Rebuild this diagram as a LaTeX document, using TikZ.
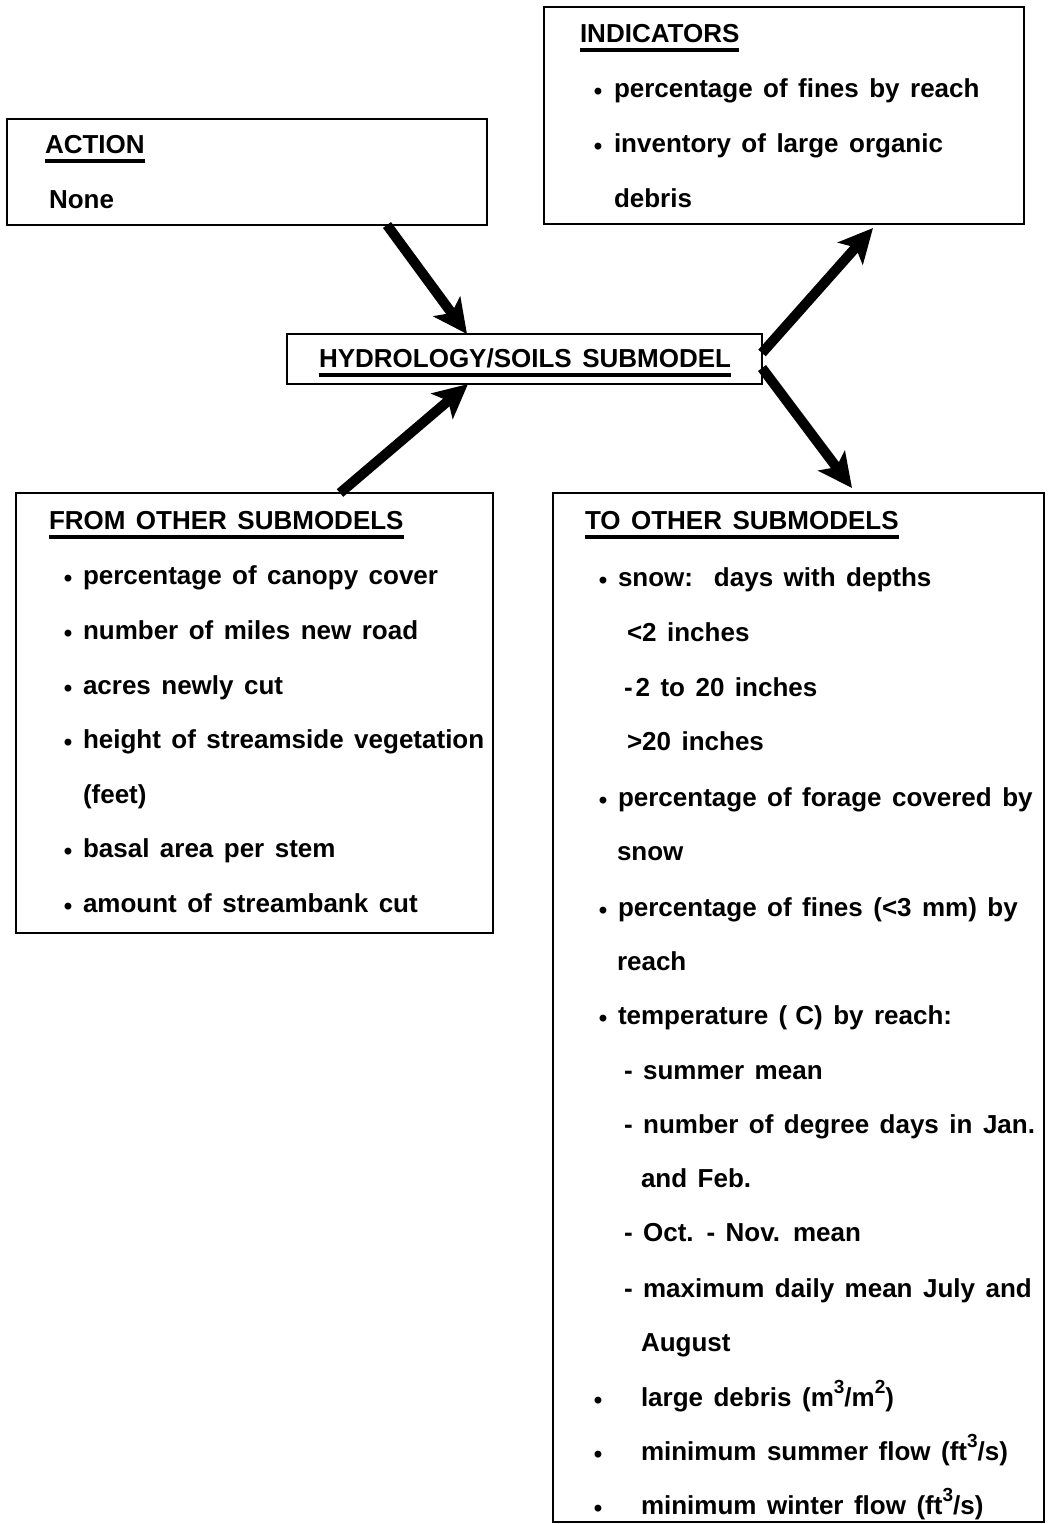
\documentclass[tikz,border=0pt]{standalone}
\usepackage{fontspec}
\setmainfont{Liberation Sans}[WordSpace=1.45]
\usetikzlibrary{arrows.meta}
% raised unit exponent, as typed on the original sheet
\newcommand\supnum[1]{\raisebox{0.5em}{\fontsize{19}{19}\selectfont #1}}

\begin{document}
\begin{tikzpicture}[x=1pt,y=-1pt,
  box/.style={draw=black, line width=2.8pt, anchor=north west, inner sep=0pt, outer sep=0pt},
  txt/.style={anchor=base west, inner sep=0pt, outer sep=0pt, font=\fontsize{26}{30}\selectfont\bfseries},
  head/.style={txt},
  bul/.style={anchor=base, inner sep=0pt, outer sep=0pt, font=\fontsize{24}{28}\selectfont\bfseries},
  ul/.style={line width=4pt, line cap=butt},
  arr/.style={line width=10pt, -{Stealth[length=34pt, width=33pt, inset=8pt]}}]

% page
\fill[white] (0,0) rectangle (1053,1524);
\useasboundingbox (0,0) rectangle (1053,1524);

% frames
\node[box, minimum width=480pt, minimum height=106pt]  (action) at (7,119)   {};
\node[box, minimum width=480pt, minimum height=217pt]  (ind)    at (544,7)   {};
\node[box, minimum width=475pt, minimum height=50pt]   (hyd)    at (287,334) {};
\node[box, minimum width=477pt, minimum height=440pt]  (from)   at (16,493)  {};
\node[box, minimum width=491pt, minimum height=1029pt] (to)     at (553,493) {};

% ACTION
\node[head] (hAct) at (45,153) {ACTION};
\draw[ul] ([yshift=-8pt]hAct.base west) -- ([yshift=-8pt]hAct.base east);
\node[txt] (tNone) at (49,208) {None};

% INDICATORS
\node[head] (hInd) at (580,42) {INDICATORS};
\draw[ul] ([yshift=-8pt]hInd.base west) -- ([yshift=-8pt]hInd.base east);
\node[bul] (bi1) at (598,99) {\textbullet};
\node[txt] (ti1) at (614,97) {percentage of fines by reach};
\node[bul] (bi2) at (598,154) {\textbullet};
\node[txt] (ti2) at (614,152) {inventory of large organic};
\node[txt] (ti3) at (614,207) {debris};

% central submodel
\node[head] (hHyd) at (319,367) {HYDROLOGY/SOILS SUBMODEL};
\draw[ul] ([yshift=-8pt]hHyd.base west) -- ([yshift=-8pt]hHyd.base east);

% FROM OTHER SUBMODELS
\node[head] (hFrom) at (49,529) {FROM OTHER SUBMODELS};
\draw[ul] ([yshift=-8pt]hFrom.base west) -- ([yshift=-8pt]hFrom.base east);
\node[bul] (bf1) at (68,586) {\textbullet};
\node[txt] (tf1) at (83,584) {percentage of canopy cover};
\node[bul] (bf2) at (68,641) {\textbullet};
\node[txt] (tf2) at (83,639) {number of miles new road};
\node[bul] (bf3) at (68,696) {\textbullet};
\node[txt] (tf3) at (83,694) {acres newly cut};
\node[bul] (bf4) at (68,750) {\textbullet};
\node[txt] (tf4) at (83,748) {height of streamside vegetation};
\node[txt] (tf5) at (83,803) {(feet)};
\node[bul] (bf6) at (68,859) {\textbullet};
\node[txt] (tf6) at (83,857) {basal area per stem};
\node[bul] (bf7) at (68,914) {\textbullet};
\node[txt] (tf7) at (83,912) {amount of streambank cut};

% TO OTHER SUBMODELS
\node[head] (hTo) at (585,529) {TO OTHER SUBMODELS};
\draw[ul] ([yshift=-8pt]hTo.base west) -- ([yshift=-8pt]hTo.base east);
\node[bul] (bt1) at (603,588) {\textbullet};
\node[txt] (tt1) at (618,586) {snow:\hspace{8pt} days with depths};
\node[txt] (tt2) at (627,641) {<2 inches};
\node[txt] (tt3) at (624,696) {-\hspace{3pt}2 to 20 inches};
\node[txt] (tt4) at (627,750) {>20 inches};
\node[bul] (bt5) at (603,808) {\textbullet};
\node[txt] (tt5) at (618,806) {percentage of forage covered by};
\node[txt] (tt6) at (617,860) {snow};
\node[bul] (bt7) at (603,918) {\textbullet};
\node[txt] (tt7) at (618,916) {percentage of fines (<3 mm) by};
\node[txt] (tt8) at (617,970) {reach};
\node[bul] (bt9) at (603,1026) {\textbullet};
\node[txt] (tt9) at (618,1024) {temperature (\hspace{8pt}C) by reach:};
\node[txt] (tt10) at (624,1079) {- summer mean};
\node[txt] (tt11) at (624,1133) {- number of degree days in Jan.};
\node[txt] (tt12) at (641,1187) {and Feb.};
\node[txt] (tt13) at (624,1241) {- Oct. - Nov. mean};
\node[txt] (tt14) at (624,1297) {- maximum daily mean July and};
\node[txt] (tt15) at (641,1351) {August};
\node[bul] (bt16) at (598,1408) {\textbullet};
\node[txt] (tt16) at (641,1406) {large debris (m\supnum{3}/m\supnum{2})};
\node[bul] (bt17) at (598,1462) {\textbullet};
\node[txt] (tt17) at (641,1460) {minimum summer flow (ft\supnum{3}/s)};
\node[bul] (bt18) at (598,1516) {\textbullet};
\node[txt] (tt18) at (641,1514) {minimum winter flow (ft\supnum{3}/s)};

% connectors
\draw[arr] ([xshift=380pt]action.south west) -- ([xshift=180pt]hyd.north west);
\draw[arr] ([xshift=324pt]from.north west) -- ([xshift=181pt]hyd.south west);
\draw[arr] ([yshift=6pt]hyd.east) -- ([xshift=329pt,yshift=-4pt]ind.south west);
\draw[arr] ([yshift=-9pt]hyd.east) -- ([xshift=299pt,yshift=5pt]to.north west);
\end{tikzpicture}
\end{document}
